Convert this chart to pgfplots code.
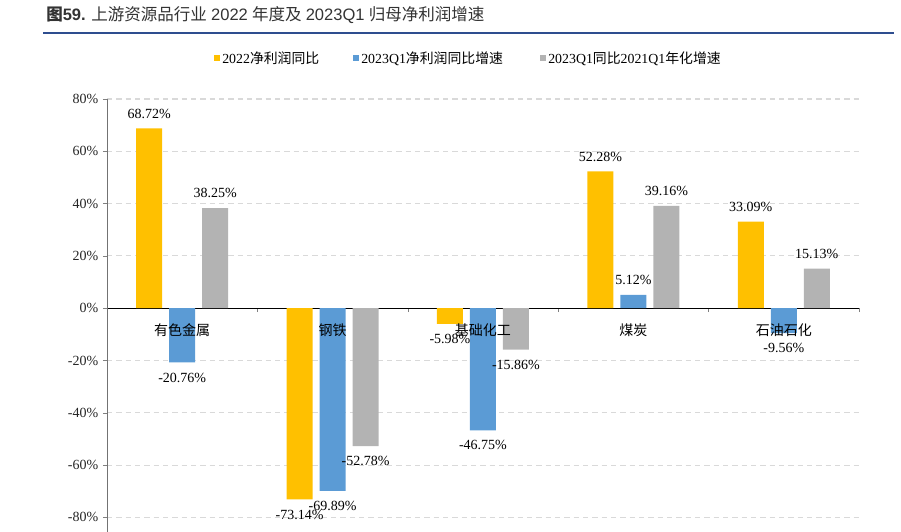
\documentclass[border=0pt]{standalone}
\usepackage{pgfplots}
\pgfplotsset{compat=1.18}
\usepackage{fontspec}
\setmainfont{Liberation Serif}
\newfontfamily\cjk{Noto Sans CJK SC}
\newfontfamily\tsans{Liberation Sans}
\definecolor{cyel}{HTML}{FFC000}
\definecolor{cblu}{HTML}{5B9BD5}
\definecolor{cgry}{HTML}{B3B3B3}
\definecolor{cline}{HTML}{2E4D8F}
\definecolor{cgrid}{HTML}{D9D9D9}
\begin{document}
\begin{tikzpicture}
\useasboundingbox (0,0) rectangle (675.75pt,-399pt);
% title
\node[anchor=base west, inner sep=0pt, text=black!80] at (34.5pt,-15pt)
  {\fontsize{12.4pt}{14pt}\selectfont{\cjk\bfseries 图}{\tsans\bfseries 59.} {\cjk 上游资源品行业} {\tsans 2022} {\cjk 年度及} {\tsans 2023Q1} {\cjk 归母净利润增速}};
\draw[cline, line width=1pt] (32.25pt,-24.75pt) -- (670.5pt,-24.75pt);
% legend
\fill[cyel] (160.5pt,-41.25pt) rectangle (165pt,-45.75pt);
\node[anchor=west, inner sep=0pt] at (166.5pt,-43.75pt) {\fontsize{10.4pt}{12pt}\selectfont 2022{\cjk 净利润同比}};
\fill[cblu] (264.75pt,-41.25pt) rectangle (269.25pt,-45.75pt);
\node[anchor=west, inner sep=0pt] at (270.75pt,-43.75pt) {\fontsize{10.4pt}{12pt}\selectfont 2023Q1{\cjk 净利润同比增速}};
\fill[cgry] (405pt,-41.25pt) rectangle (409.5pt,-45.75pt);
\node[anchor=west, inner sep=0pt] at (411pt,-43.75pt) {\fontsize{10.4pt}{12pt}\selectfont 2023Q1{\cjk 同比}2021Q1{\cjk 年化增速}};
\begin{axis}[
  at={(80.25pt,-399pt)}, anchor=south west,
  scale only axis, width=564pt, height=324.75pt,
  xmin=-0.5, xmax=4.5, ymin=-85.6, ymax=80,
  axis y line=left, axis x line=middle,
  axis line style={-},
  y axis line style={draw=black!55},
  x axis line style={draw=black},
  xtick={-0.5,0.5,...,4.5}, xticklabels={},
  xtick align=outside, ytick align=outside,
  major tick length=3pt,
  ytick={-80,-60,...,80},
  yticklabel={\pgfmathprintnumber{\tick}\%},
  /pgf/number format/assume math mode=true,
  yticklabel style={font=\fontsize{10.5pt}{12pt}\selectfont, text=black!85},
  ymajorgrids, grid style={cgrid, dashed, line width=0.8pt, dash pattern=on 4pt off 3pt},
  ybar=5.25pt, bar width=19.5pt,
  nodes near coords={\pgfmathprintnumber[fixed,precision=2,fixed zerofill]{\pgfplotspointmeta}\%},
  every node near coord/.append style={font=\fontsize{10.5pt}{12pt}\selectfont, text=black, inner ysep=7.5pt},
  clip=false,
]
\addplot[fill=cyel, draw=none] coordinates {(0,68.72) (1,-73.14) (2,-5.98) (3,52.28) (4,33.09)};
\addplot[fill=cblu, draw=none] coordinates {(0,-20.76) (1,-69.89) (2,-46.75) (3,5.12) (4,-9.56)};
\addplot[fill=cgry, draw=none] coordinates {(0,38.25) (1,-52.78) (2,-15.86) (3,39.16) (4,15.13)};
\foreach \i/\lab in {0/有色金属,1/钢铁,2/基础化工,3/煤炭,4/石油石化}{
  \edef\tmp{\noexpand\node[font=\noexpand\cjk\noexpand\fontsize{10.5pt}{12pt}\noexpand\selectfont, text=black, anchor=center, inner sep=0pt] at (axis cs:\i,0) [yshift=-16.5pt] {\lab};}
  \tmp
}
\end{axis}
\end{tikzpicture}
\end{document}
